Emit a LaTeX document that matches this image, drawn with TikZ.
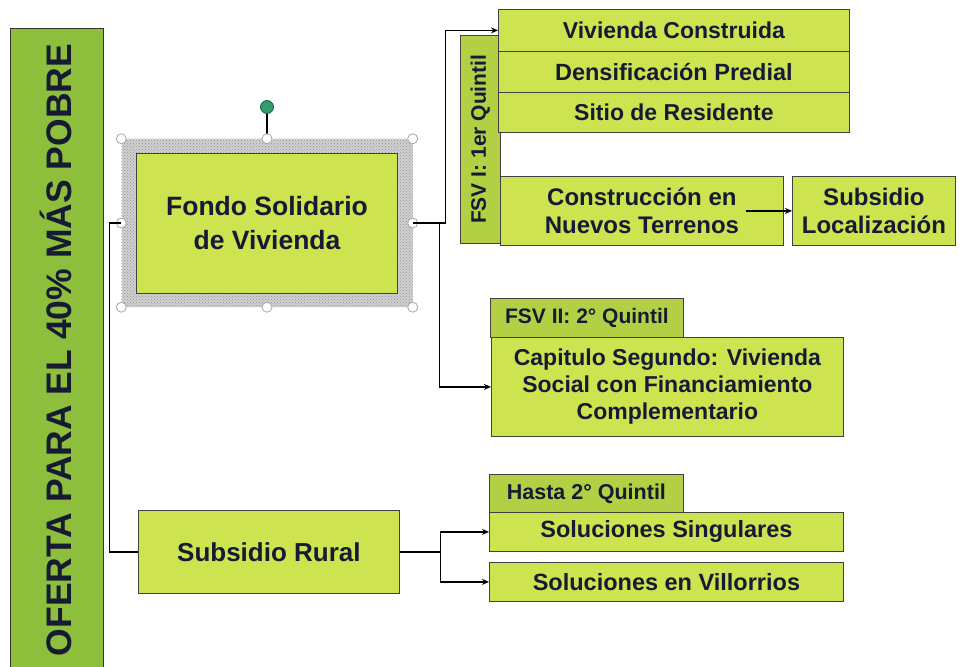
\documentclass[tikz,border=0pt]{standalone}
\usepackage{fontspec}
\setmainfont{Liberation Sans}
\usetikzlibrary{arrows.meta,positioning,patterns}
\definecolor{bargreen}{HTML}{8DBE3C}
\definecolor{boxgreen}{HTML}{CDE350}
\definecolor{labgreen}{HTML}{B3D045}
\definecolor{txt}{HTML}{161A33}
\definecolor{framegray}{HTML}{D0D0D0}
\definecolor{handlegreen}{HTML}{2E9E6A}
\begin{document}
\begin{tikzpicture}[x=1pt,y=-1pt,
  box/.style={draw=black!75,line width=0.8pt,fill=boxgreen,text=txt,inner sep=0pt,align=center,font=\bfseries},
  labbox/.style={box,fill=labgreen},
  arr/.style={line width=1.3pt,-{Stealth[length=7pt,width=6pt]}},
  conn/.style={line width=1.3pt},
  handle/.style={circle,draw=gray!70,fill=white,line width=0.8pt,minimum size=10pt,inner sep=0pt}]
\useasboundingbox (0,0) rectangle (959,667);
% left bar
\node[draw=black!80,line width=1pt,fill=bargreen,minimum width=93pt,minimum height=660pt,inner sep=0pt,anchor=north west] (bar) at (10,28) {};
\node[rotate=90,text=txt,font=\bfseries\fontsize{35.5}{38}\selectfont] (bartext) at (56,350) {OFERTA PARA EL 40\% MÁS POBRE};
% Fondo Solidario with selection frame
\node[fill=framegray,minimum width=291pt,minimum height=168pt,inner sep=0pt] (frame) at (267,223) {};
\fill[pattern=crosshatch dots,pattern color=gray!85] (frame.south west) rectangle (frame.north east);
\node[box,font=\bfseries\fontsize{26.5}{34}\selectfont,minimum width=261pt,minimum height=140pt] (fondo) at (267,223) {Fondo Solidario\\de Vivienda};
\node[handle,fill=handlegreen,draw=handlegreen!60!black,minimum size=13pt] (rot) at (267,107) {};
\draw[line width=1.2pt] (rot) -- (frame.north);
\foreach \a in {north west,north,north east,west,east,south west,south,south east}
  \node[handle] at (frame.\a) {};
% FSV I
\node[labbox,minimum width=40pt,minimum height=208pt,anchor=north west] (fsv1) at (460,35) {};
\node[rotate=90,text=txt,font=\bfseries\fontsize{21}{23}\selectfont] (fsv1t) at (fsv1.center) {FSV I: 1er Quintil};
\node[box,font=\bfseries\fontsize{23}{26}\selectfont,minimum width=351pt,minimum height=42pt,anchor=north west] (viv) at (498,9) {Vivienda Construida};
\node[box,font=\bfseries\fontsize{23.5}{26}\selectfont,minimum width=351pt,minimum height=41pt,anchor=north west] (dens) at (498,51) {Densificación Predial};
\node[box,font=\bfseries\fontsize{23}{26}\selectfont,minimum width=351pt,minimum height=40pt,anchor=north west] (sitio) at (498,92) {Sitio de Residente};
\node[box,font=\bfseries\fontsize{24}{28}\selectfont,minimum width=283pt,minimum height=69pt,anchor=north west] (cons) at (500,176) {Construcción en\\Nuevos Terrenos};
\node[box,font=\bfseries\fontsize{24}{28}\selectfont,minimum width=163pt,minimum height=69pt,anchor=north west] (loc) at (792,176) {Subsidio\\Localización};
% FSV II
\node[labbox,font=\bfseries\fontsize{21}{24}\selectfont,minimum width=193pt,minimum height=39pt,anchor=north west] (fsv2) at (490,298) {FSV II: 2° Quintil};
\node[box,font=\bfseries\fontsize{23}{27}\selectfont,minimum width=352pt,minimum height=99pt,anchor=north west] (cap) at (491,337) {Capitulo Segundo: Vivienda\\Social con Financiamiento\\Complementario};
% Rural
\node[box,font=\bfseries\fontsize{26}{28}\selectfont,minimum width=261pt,minimum height=83pt,anchor=north west] (rural) at (138,510) {Subsidio Rural};
\node[labbox,font=\bfseries\fontsize{21.5}{24}\selectfont,minimum width=194pt,minimum height=38pt,anchor=north west] (hasta) at (489,474) {Hasta 2° Quintil};
\node[box,font=\bfseries\fontsize{23.5}{26}\selectfont,minimum width=354pt,minimum height=39pt,anchor=north west] (sing) at (489,512) {Soluciones Singulares};
\node[box,font=\bfseries\fontsize{23.5}{26}\selectfont,minimum width=354pt,minimum height=39pt,anchor=north west] (vill) at (489,562) {Soluciones en Villorrios};
% connectors
\draw[conn] (frame.west) -- ++(-12,0) |- (rural.west);
\draw[arr] (frame.east) -- ++(33,0) |- (viv.west);
\draw[arr] (frame.east) -- ++(27,0) |- (cap.west);
\draw[arr] ([xshift=-38pt]cons.east) -- (loc.west);
\draw[arr] (rural.east) -- ++(41,0) |- (sing.west);
\draw[arr] (rural.east) -- ++(41,0) |- (vill.west);
\end{tikzpicture}
\end{document}
